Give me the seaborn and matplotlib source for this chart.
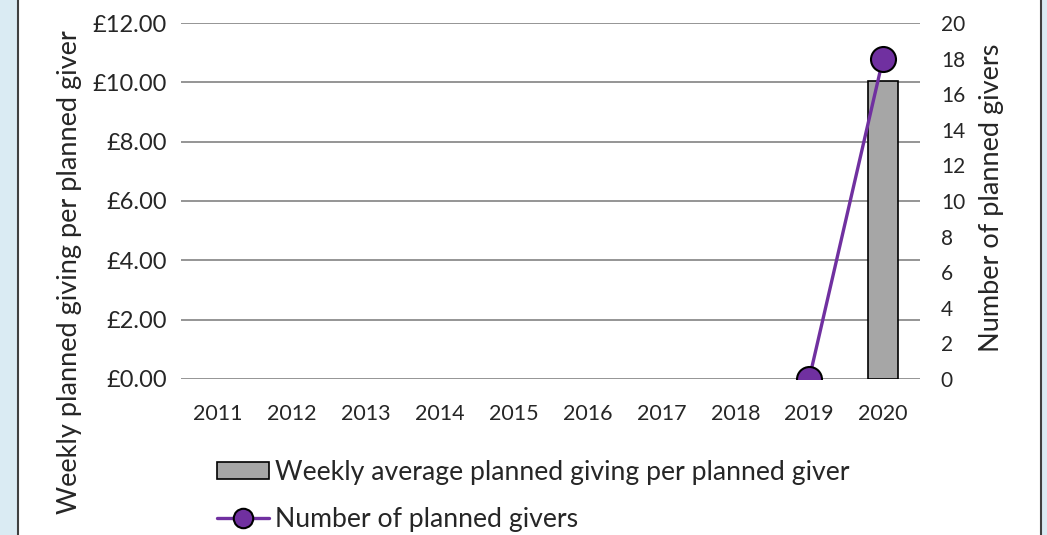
import matplotlib
matplotlib.use("Agg")
import matplotlib.pyplot as plt
import numpy as np
import pandas as pd
import seaborn as sb
from matplotlib.patches import Rectangle

# Data
years = ['2011', '2012', '2013', '2014', '2015', '2016', '2017', '2018', '2019', '2020']
weekly_avg = [np.nan] * 9 + [10.05]
givers = [np.nan] * 8 + [0, 18]
left_ticks = [0, 2, 4, 6, 8, 10, 12]
right_ticks = [0, 2, 4, 6, 8, 10, 12, 14, 16, 18, 20]

bar_colour = '#A6A6A6'
line_colour = '#7030A0'
grid_colour = '#8C8C8C'
edge_blue = '#DAEBF3'

sb.set_style('white')
plt.rcParams['font.family'] = ['Lato', 'DejaVu Sans']

df = pd.DataFrame({'Year': years, 'Weekly': weekly_avg, 'Givers': givers})
df['pos'] = np.arange(len(years))

fig = plt.figure(figsize=(10.47, 5.35), dpi=100)
ax = fig.add_axes([0.1729, 0.2916, 0.7058, 0.6654])

sb.barplot(data=df, x='Year', y='Weekly', color=bar_colour, edgecolor='black',
           linewidth=1.2, width=0.41, saturation=1, ax=ax, zorder=3)
ax.set_ylim(0, 12)
ax.set_yticks(left_ticks)
ax.set_yticklabels(['£%.2f' % v for v in left_ticks], fontsize=17)
ax.set_xlim(-0.5, len(years) - 0.5)
ax.tick_params(axis='x', labelsize=15.5, length=0, pad=18)
ax.tick_params(axis='y', length=0, pad=10)
ax.yaxis.grid(True, color=grid_colour, linewidth=1.3)
ax.set_axisbelow(True)
for s in ax.spines.values():
    s.set_visible(False)
ax.set_xlabel('')
ax.set_ylabel('')

ax2 = ax.twinx()
sb.lineplot(data=df, x='pos', y='Givers', color=line_colour, linewidth=2.4,
            marker='o', markersize=18, markerfacecolor=line_colour,
            markeredgecolor='black', markeredgewidth=1.5, ax=ax2, zorder=4)
ax2.set_ylim(0, 20)
ax2.set_yticks(right_ticks)
ax2.set_yticklabels([str(v) for v in right_ticks], fontsize=15)
ax2.tick_params(axis='y', length=0, pad=15)
for s in ax2.spines.values():
    s.set_visible(False)
ax2.set_xlabel('')
ax2.set_ylabel('')
ax2.set_xlim(-0.5, len(years) - 0.5)

fig.text(70 / 1047, 1 - 272 / 535, 'Weekly planned giving per planned giver',
         rotation=90, ha='center', va='center', fontsize=19.5)
fig.text(991 / 1047, 1 - 198 / 535, 'Number of planned givers',
         rotation=90, ha='center', va='center', fontsize=19.5)

# legend
h_bar = Rectangle((0, 0), 1, 1, facecolor=bar_colour, edgecolor='black', linewidth=1.2)
h_line = plt.Line2D([], [], color=line_colour, linewidth=2.4, marker='o', markersize=14,
                    markerfacecolor=line_colour, markeredgecolor='black', markeredgewidth=1.5)
fig.legend([h_bar, h_line],
           ['Weekly average planned giving per planned giver', 'Number of planned givers'],
           loc='upper left', bbox_to_anchor=(206 / 1047, 1 - 449 / 535),
           frameon=False, fontsize=19.2, handlelength=1.95, handleheight=0.6,
           handletextpad=0.22, labelspacing=0.85, borderaxespad=0)

# card edges
fig.patches.append(Rectangle((0, 0), 17 / 1047, 1, transform=fig.transFigure,
                             facecolor=edge_blue, edgecolor='none', zorder=0))
fig.patches.append(Rectangle((1042 / 1047, 0), 5 / 1047, 1, transform=fig.transFigure,
                             facecolor=edge_blue, edgecolor='none', zorder=0))
fig.lines.append(plt.Line2D([18 / 1047, 18 / 1047], [0, 1], transform=fig.transFigure,
                            color='#404040', linewidth=1.5))
fig.lines.append(plt.Line2D([1040.5 / 1047, 1040.5 / 1047], [0, 1], transform=fig.transFigure,
                            color='#404040', linewidth=1.5))

fig.savefig('out.png', dpi=100)
